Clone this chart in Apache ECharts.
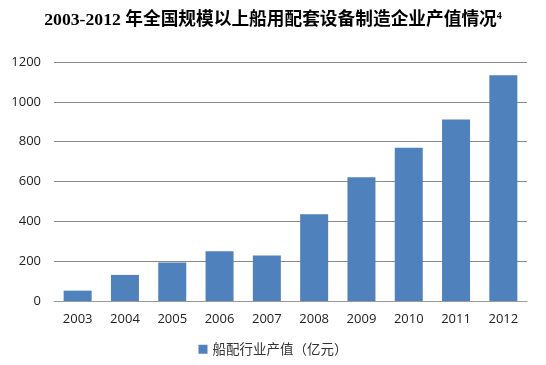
<!DOCTYPE html>
<html><head><meta charset="utf-8">
<script src="https://cdn.jsdelivr.net/npm/echarts@6/dist/echarts.min.js"></script>
<style>html,body{margin:0;padding:0;background:#fff}#c{width:546px;height:365px}</style>
</head><body><div id="c"></div>
<script>
const categories = ['2003','2004','2005','2006','2007','2008','2009','2010','2011','2012'];
const values = [52, 131, 193, 250, 228, 435, 621, 770, 911, 1133];
const seriesName = '船配行业产值（亿元）';
const titleMain = '2003-2012 年全国规模以上船用配套设备制造企业产值情况';
const titleSup = '4';

const chart = echarts.init(document.getElementById('c'));
chart.setOption({
  animation: false,
  backgroundColor: '#fff',
  title: {
    text: '{m|' + titleMain + '}{s|' + titleSup + '}',
    left: 'center',
    top: 6,
    textStyle: {
      rich: {
        m: { fontFamily: 'Liberation Serif, Noto Sans CJK SC', fontWeight: 'bold', fontSize: 17.7, color: '#000' },
        s: { fontFamily: 'Liberation Serif', fontWeight: 'bold', fontSize: 10, color: '#000', verticalAlign: 'top', padding: [0,0,8,0] }
      }
    }
  },
  legend: {
    bottom: 4,
    left: 'center',
    itemWidth: 9, itemHeight: 9,
    icon: 'rect',
    itemGap: 4,
    textStyle: { fontFamily: 'Noto Sans CJK SC', fontSize: 13.5, color: '#333' },
    data: [seriesName]
  },
  grid: { left: 54, right: 19, top: 62, bottom: 64 },
  xAxis: {
    type: 'category',
    data: categories,
    axisLine: { show: true, lineStyle: { color: '#999' } },
    axisTick: { show: false },
    axisLabel: { fontFamily: 'Open Sans, Noto Sans', fontSize: 13, color: '#222', margin: 12 }
  },
  yAxis: {
    type: 'value',
    min: 0, max: 1200, interval: 200,
    axisLine: { show: false },
    axisTick: { show: false },
    axisLabel: { fontFamily: 'Open Sans, Noto Sans', fontSize: 13, color: '#222', margin: 13, formatter: function (v) { return String(v); } },
    splitLine: { lineStyle: { color: '#8a8a8a', width: 1 } }
  },
  series: [{
    name: seriesName,
    type: 'bar',
    data: values,
    barWidth: 28,
    itemStyle: { color: '#4f81bd' }
  }]
});
</script></body></html>
